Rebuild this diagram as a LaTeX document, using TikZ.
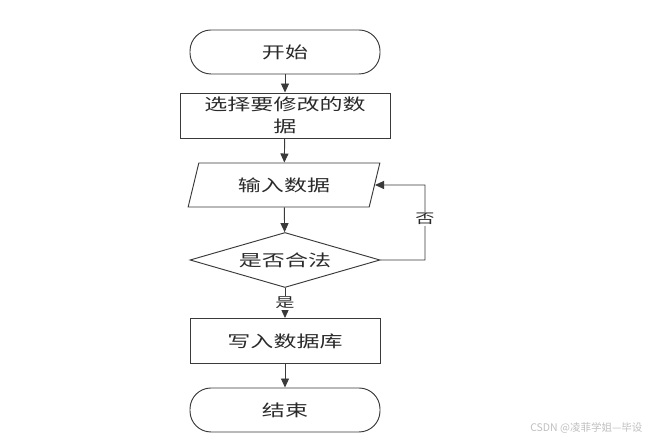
\documentclass[tikz,border=0pt]{standalone}
\usepackage{fontspec}
\newfontfamily\cjk[FakeStretch=1.42]{Noto Sans CJK SC}
\newfontfamily\cjkplain{Noto Sans CJK SC}
\usetikzlibrary{shapes.geometric,arrows.meta}
\definecolor{ln}{HTML}{3A3A3A}
\definecolor{tx}{HTML}{2A2A2A}
\tikzset{
  x=1pt,y=1pt,
  base/.style={draw=ln,line width=0.95pt,text=tx,font=\cjk\fontsize{16.2}{22}\selectfont,inner sep=0pt,align=center},
  term/.style={base,rectangle,rounded corners=21pt,minimum width=190pt,minimum height=44pt},
  proc/.style={base,rectangle,minimum width=210pt,minimum height=45pt},
  proc2/.style={base,rectangle,minimum width=190pt,minimum height=45pt},
  io/.style={base,trapezium,trapezium stretches=true,trapezium left angle=69,trapezium right angle=111,minimum width=192pt,minimum height=44pt},
  dec/.style={base,diamond,aspect=3.45,minimum width=190pt,minimum height=55pt},
  conn/.style={draw=ln,line width=0.95pt,-{Triangle[length=9pt,width=8pt]}},
  lbl/.style={text=tx,font=\cjk\fontsize{13.5}{15}\selectfont,fill=white,inner sep=1pt}
}
\begin{document}
\begin{tikzpicture}
\useasboundingbox (0,0) rectangle (659,443);
\node[term] (start) at (285,391) {开始};
\node[proc] (sel) at (285,327.5) {选择要修改的数\\据};
\node[io] (in) at (284,258) {输入数据};
\node[dec] (chk) at (285,183) {是否合法};
\node[proc2] (wr) at (285,102) {写入数据库};
\node[term] (end) at (285,33) {结束};
\coordinate (c1) at (425,183);
\coordinate (c2) at (425,258);
\draw[conn] (start) -- (sel);
\draw[conn] (sel) -- (in);
\draw[conn] (in) -- (chk);
\draw[conn] (chk) -- node[lbl,pos=0.5]{是} (wr);
\draw[conn] (wr) -- (end);
\draw[conn] (chk.east) -- (c1) -- node[lbl,pos=0.55]{否} (c2) -- (in.east);
\node[text=black!25,font=\cjkplain\fontsize{10.5}{12}\selectfont,anchor=east] (wm) at (646,15) {CSDN @凌菲学姐—毕设};
\end{tikzpicture}
\end{document}
